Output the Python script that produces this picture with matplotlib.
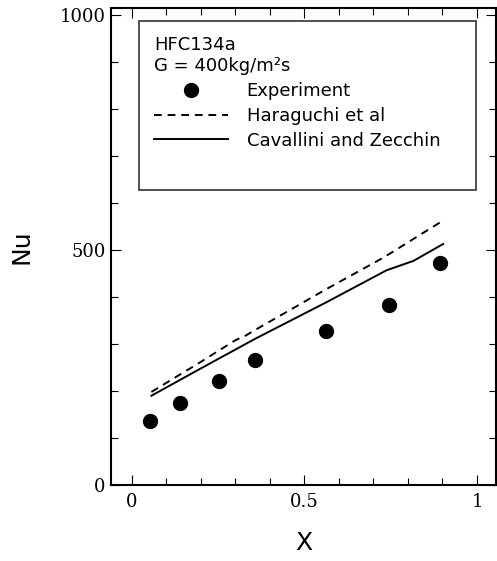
import numpy as np
import matplotlib
matplotlib.use("Agg")
import matplotlib.pyplot as plt
from matplotlib.ticker import MultipleLocator
from matplotlib.lines import Line2D

# values
exp_x = [0.054, 0.139, 0.252, 0.357, 0.564, 0.744, 0.892]
exp_nu = [137, 174, 222, 266, 328, 383, 472]

hara_x = [0.057, 0.20, 0.30, 0.33, 0.36, 0.564, 0.729, 0.902]
hara_nu = [198, 262, 308, 318, 331, 417, 484, 563]

cav_x = [0.057, 0.20, 0.357, 0.564, 0.738, 0.816, 0.902]
cav_nu = [190, 248, 311, 389, 457, 477, 513]

legend_title = "HFC134a\nG = 400kg/m²s"
labels = ["Experiment", "Haraguchi et al", "Cavallini and Zecchin"]

sans = ["DejaVu Sans"]
serif = ["DejaVu Serif"]
plt.rcParams["font.family"] = serif

fig = plt.figure(figsize=(4.97, 5.61), dpi=100)
ax = fig.add_axes([0.2233, 0.1355, 0.7747, 0.850])

ax.plot(exp_x, exp_nu, "o", color="black", markersize=10, linestyle="none")
ax.plot(hara_x, hara_nu, color="black", linewidth=1.4, linestyle=(0, (4, 3)))
ax.plot(cav_x, cav_nu, color="black", linewidth=1.4)

ax.set_xlim(-0.06, 1.055)
ax.set_ylim(0, 1015)
ax.xaxis.set_major_locator(MultipleLocator(0.5))
ax.xaxis.set_minor_locator(MultipleLocator(0.1))
ax.yaxis.set_major_locator(MultipleLocator(500))
ax.yaxis.set_minor_locator(MultipleLocator(100))
ax.set_xticks([0, 0.5, 1])
ax.set_xticklabels(["0", "0.5", "1"])
ax.tick_params(which="both", direction="in", top=True, right=True, width=0.8)
ax.tick_params(which="major", length=7, labelsize=13, pad=4)
ax.tick_params(axis="x", which="major", pad=6)
ax.tick_params(which="minor", length=5)
for s in ax.spines.values():
    s.set_linewidth(1.5)

ax.set_xlabel("X", family=sans, fontsize=18, labelpad=14)
ax.set_ylabel("Nu", family=sans, fontsize=18, labelpad=19)

handles = [
    Line2D([], [], marker="o", color="black", markersize=10, linestyle="none"),
    Line2D([], [], color="black", linewidth=1.4, linestyle=(0, (4, 3))),
    Line2D([], [], color="black", linewidth=1.4),
    Line2D([], [], linestyle="none"),
]
leg = ax.legend(handles, labels + [" "], title=legend_title, loc="upper left",
                bbox_to_anchor=(0.073, 0.643, 0.876, 0.33), mode="expand", borderaxespad=0,
                prop={"family": sans, "size": 13}, title_fontproperties={"family": sans, "size": 13},
                alignment="left", frameon=True, fancybox=False, edgecolor="black",
                handlelength=4.1, handletextpad=1.0, labelspacing=0.38, borderpad=0.85)
leg.get_frame().set_linewidth(1.2)

fig.savefig("out.png", dpi=100)
